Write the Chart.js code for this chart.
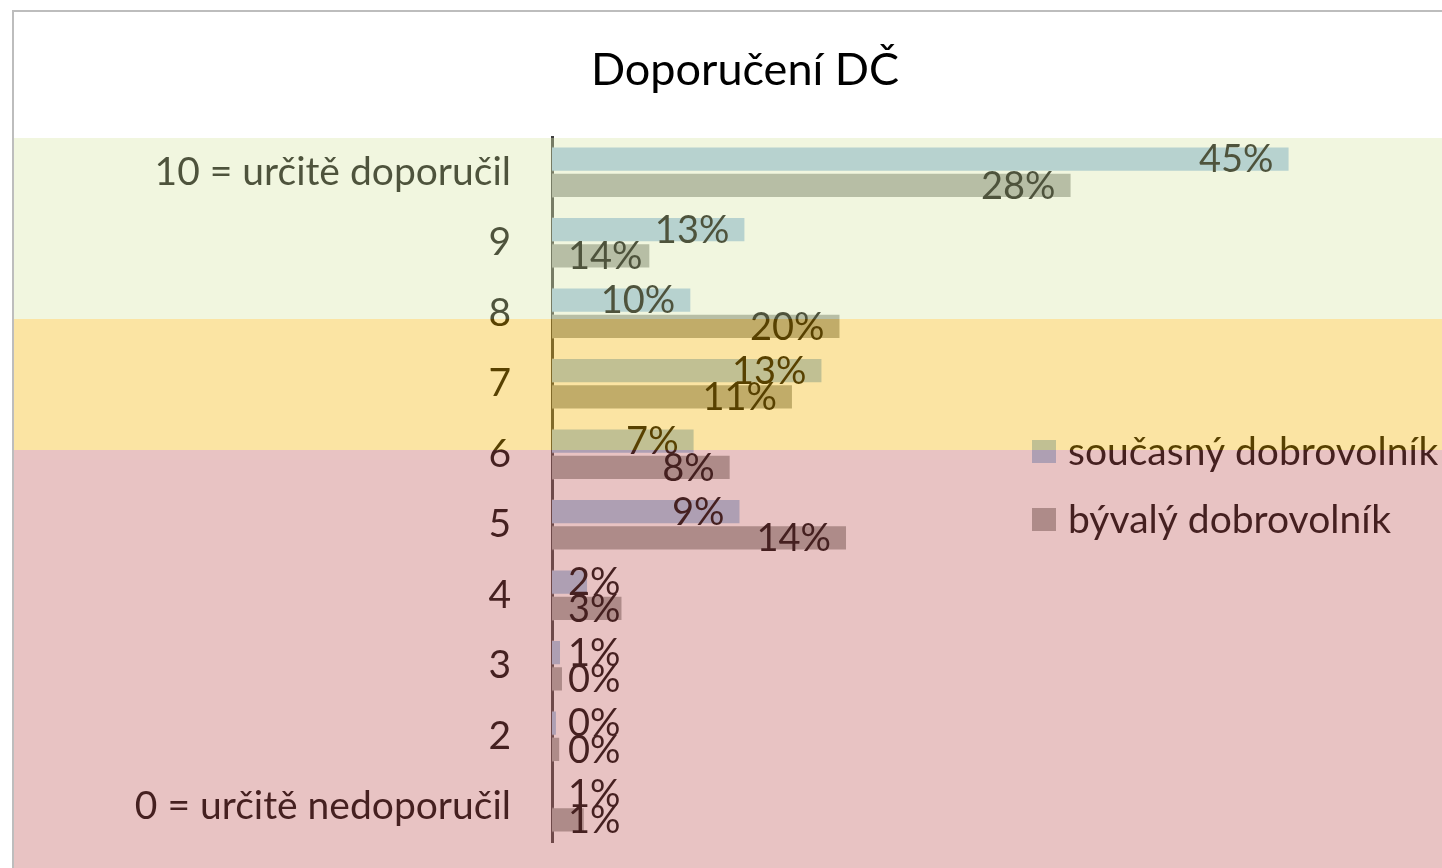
<!DOCTYPE html>
<html>
<head>
<meta charset="utf-8">
<script src="https://cdn.jsdelivr.net/npm/chart.js@4.4.0/dist/chart.umd.min.js"></script>
<style>
  body { margin: 0; background: #fff; }
  canvas { display: block; }
</style>
</head>
<body>
<canvas id="npsChart" width="1442" height="868"></canvas>
<script>
// categories top to bottom
const categories = ['10 = určitě doporučil', '9', '8', '7', '6', '5', '4', '3', '2', '0 = určitě nedoporučil'];
const seriesNames = ['současný dobrovolník', 'bývalý dobrovolník'];

// bar lengths as drawn in the picture (percent units)
const currentValues = [45.0, 11.8, 8.5, 16.5, 8.7, 11.5, 2.2, 0.55, 0.3, 0];
const formerValues = [31.7, 6.0, 17.6, 14.7, 10.9, 18.0, 4.3, 0.67, 0.5, 2.0];

// data labels as printed
const currentLabels = ['45%', '13%', '10%', '13%', '7%', '9%', '2%', '1%', '0%', '1%'];
const formerLabels = ['28%', '14%', '20%', '11%', '8%', '14%', '3%', '0%', '0%', '1%'];

const FONT = 'Lato, "Open Sans", sans-serif';

const slidePlugin = {
  id: 'slide',
  beforeDraw(chart) {
    const ctx = chart.ctx;
    ctx.save();
    ctx.fillStyle = '#fff';
    ctx.fillRect(0, 0, chart.width, chart.height);
    // slide frame
    ctx.strokeStyle = '#bdbdbd';
    ctx.lineWidth = 2;
    ctx.beginPath();
    ctx.moveTo(13, chart.height);
    ctx.lineTo(13, 11);
    ctx.lineTo(chart.width, 11);
    ctx.stroke();
    ctx.restore();
  },
  afterDraw(chart) {
    const ctx = chart.ctx;
    const area = chart.chartArea;
    ctx.save();

    // data labels
    ctx.font = '38px ' + FONT;
    ctx.fillStyle = '#000';
    ctx.textAlign = 'right';
    ctx.textBaseline = 'middle';
    const labelSets = [currentLabels, formerLabels];
    chart.data.datasets.forEach((ds, di) => {
      chart.getDatasetMeta(di).data.forEach((bar, i) => {
        const txt = labelSets[di][i];
        const w = ctx.measureText(txt).width;
        const x = Math.max(bar.x - 16, area.left + 16 + w);
        ctx.fillText(txt, x, bar.y + 1);
      });
    });

    // legend
    ctx.font = '39px ' + FONT;
    ctx.textAlign = 'left';
    chart.data.datasets.forEach((ds, di) => {
      const cy = 451 + di * 68;
      ctx.fillStyle = ds.backgroundColor;
      ctx.fillRect(1032, cy - 11, 24, 23);
      ctx.fillStyle = '#000';
      ctx.fillText(seriesNames[di], 1068, cy + 1);
    });

    // coloured translucent bands over everything
    const bands = [
      [138, 319, 'rgba(216,230,165,0.36)'],
      [319, 450, 'rgba(244,179,0,0.36)'],
      [450, chart.height, 'rgba(192,89,89,0.36)']
    ];
    bands.forEach(([y0, y1, c]) => {
      ctx.fillStyle = c;
      ctx.fillRect(14, y0, chart.width - 14, y1 - y0);
    });
    ctx.restore();
  }
};

new Chart(document.getElementById('npsChart'), {
  type: 'bar',
  data: {
    labels: categories,
    datasets: [{
      label: seriesNames[0],
      data: currentValues,
      backgroundColor: 'rgb(165,199,230)',
      borderColor: 'rgba(255,255,255,0.25)',
      borderWidth: 1,
      categoryPercentage: 0.74,
      barPercentage: 0.97
    }, {
      label: seriesNames[1],
      data: formerValues,
      backgroundColor: 'rgb(165,168,165)',
      borderColor: 'rgba(255,255,255,0.25)',
      borderWidth: 1,
      categoryPercentage: 0.74,
      barPercentage: 0.97
    }]
  },
  options: {
    indexAxis: 'y',
    responsive: false,
    animation: false,
    devicePixelRatio: 1,
    layout: { padding: { left: 48, right: 0, top: 0, bottom: 26 } },
    plugins: {
      legend: { display: false },
      tooltip: { enabled: false },
      title: {
        display: true,
        text: 'Doporučení DČ',
        color: '#000',
        font: { family: FONT, size: 45, weight: 'normal' },
        padding: { top: 43, bottom: 40 }
      }
    },
    scales: {
      x: {
        display: false,
        min: 0,
        max: 54.3
      },
      y: {
        afterFit(scale) {
          scale.width = 504;
          scale.paddingTop = 0;
          scale.paddingBottom = 0;
        },
        grid: { display: false },
        border: { display: true, color: '#404040', width: 3 },
        ticks: {
          color: '#000',
          padding: 33,
          font: { family: FONT, size: 39 }
        }
      }
    }
  },
  plugins: [slidePlugin]
});
</script>
</body>
</html>
